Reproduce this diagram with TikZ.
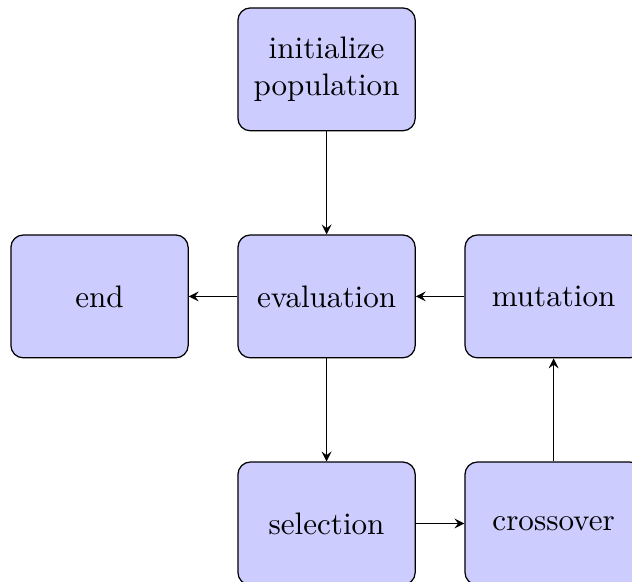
\documentclass[tikz,border=0pt]{standalone}
\usetikzlibrary{positioning}
\begin{document}
\begin{tikzpicture}[>=stealth,node distance=73pt,on grid]
\tikzset{stage/.style={draw,fill=blue!20,rounded corners,minimum width=57pt,minimum height=39.5pt,align=center}}
\useasboundingbox (-105pt,-91.8pt) rectangle (98.2pt,95.3pt);
\node[stage] (eval) at (0,0) {evaluation};
\node[stage,above=of eval] (init) {initialize\\population};
\node[stage,left=of eval] (stop) {end};
\node[stage,below=of eval] (sel) {selection};
\node[stage,right=of sel] (cross) {crossover};
\node[stage,right=of eval] (mut) {mutation};
\draw[->] (init) -- (eval);
\draw[->] (eval) -- (stop);
\draw[->] (eval) -- (sel);
\draw[->] (sel) -- (cross);
\draw[->] (cross) -- (mut);
\draw[->] (mut) -- (eval);
\end{tikzpicture}
\end{document}
